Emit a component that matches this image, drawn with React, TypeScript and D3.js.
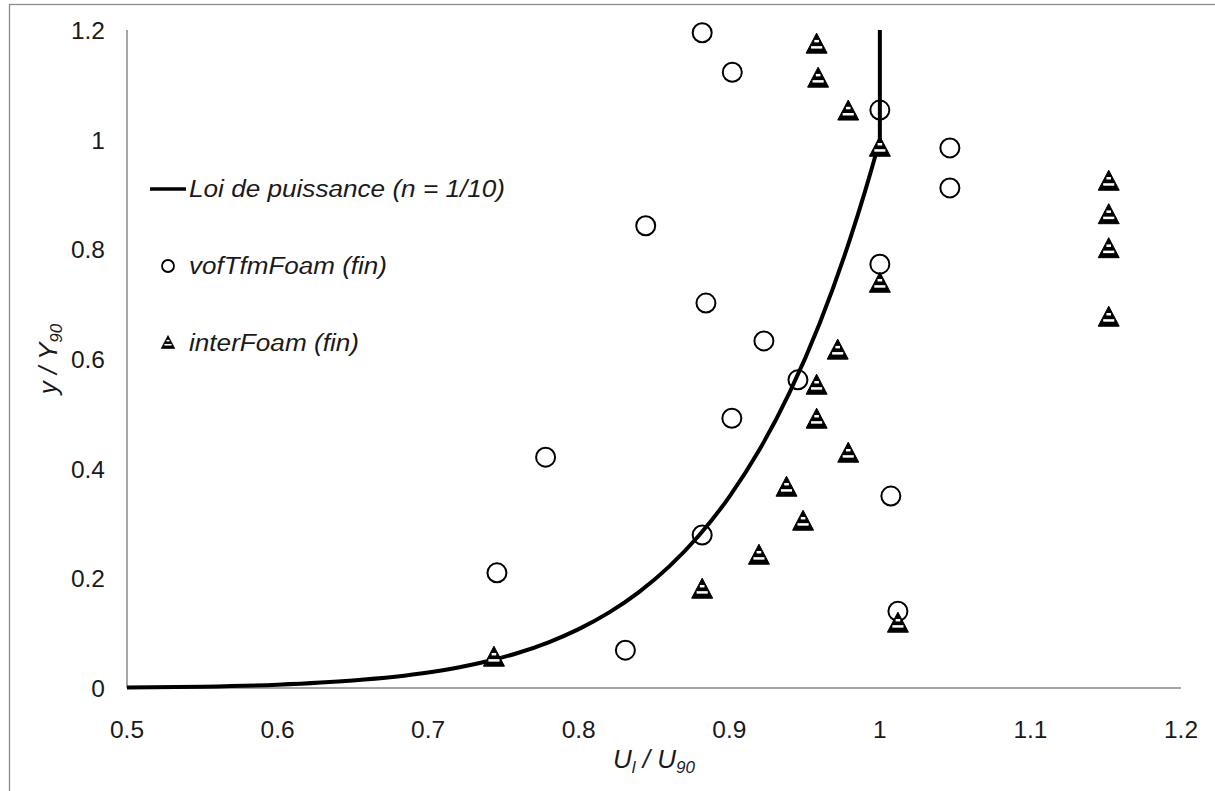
import React from "react";
import * as d3 from "d3";

const xTickValues = [0.5, 0.6, 0.7, 0.8, 0.9, 1.0, 1.1, 1.2];
const xTickLabels = ["0.5", "0.6", "0.7", "0.8", "0.9", "1", "1.1", "1.2"];
const yTickValues = [0, 0.2, 0.4, 0.6, 0.8, 1.0, 1.2];
const yTickLabels = ["0", "0.2", "0.4", "0.6", "0.8", "1", "1.2"];

// Power law (n = 1/10) curve points, read/tabulated
const lawX = [0.5, 0.55, 0.6, 0.65, 0.7, 0.72, 0.74, 0.76, 0.78, 0.8, 0.82, 0.84, 0.86, 0.88, 0.9, 0.92, 0.94, 0.96, 0.98, 0.99, 0.995, 1.0];
const lawY = [0.001, 0.0025, 0.006, 0.0135, 0.0282, 0.0374, 0.0492, 0.0643, 0.0834, 0.1074, 0.1374, 0.1749, 0.2213, 0.2785, 0.3487, 0.4344, 0.5386, 0.6648, 0.8171, 0.9044, 0.9511, 1.0];
const lawTopX = [1.0, 1.0];
const lawTopY = [1.0, 1.2];

// vofTfmFoam (fin)
const vofX = [0.882, 0.902, 1.0, 1.0465, 1.0465, 0.8445, 1.0, 0.8845, 0.923, 0.9456, 0.9017, 0.778, 1.0073, 0.7457, 0.882, 0.831, 1.012];
const vofY = [1.195, 1.123, 1.054, 0.985, 0.912, 0.843, 0.773, 0.702, 0.633, 0.562, 0.492, 0.421, 0.35, 0.21, 0.279, 0.069, 0.14];

// interFoam (fin)
const interX = [0.958, 0.959, 0.979, 1.0, 1.152, 1.152, 1.152, 1.152, 1.0, 0.972, 0.958, 0.958, 0.979, 0.938, 0.949, 0.9197, 0.882, 1.012, 0.7437];
const interY = [1.176, 1.114, 1.054, 0.988, 0.926, 0.865, 0.803, 0.678, 0.74, 0.618, 0.554, 0.492, 0.43, 0.368, 0.306, 0.244, 0.182, 0.12, 0.058];

const W = 1215;
const H = 791;
const FONT = "'Liberation Sans', Arial, sans-serif";

function Tri({ cx, cy, s = 1 }: { cx: number; cy: number; s?: number }) {
  const h = 10 * s;
  const b = 10.5 * s;
  const path = `M${cx},${cy - h}L${cx + b},${cy + h}L${cx - b},${cy + h}Z`;
  const halfW = (yy: number) => ((yy + h) / (2 * h)) * b;
  const stripes = [-2.0 * s, 4.2 * s];
  return (
    <g>
      <path d={path} fill="#000" stroke="#000" strokeWidth={1.0 * s} strokeLinejoin="miter" />
      {stripes.map((sy, i) => {
        const hw = halfW(sy) - 1.9 * s;
        if (hw <= 0) return null;
        return (
          <line key={i} x1={cx - hw} x2={cx + hw} y1={cy + sy} y2={cy + sy} stroke="#fff" strokeWidth={2.5 * s} />
        );
      })}
    </g>
  );
}

export default function App() {
  const x = d3.scaleLinear().domain([0.5, 1.2]).range([127, 1181]);
  const y = d3.scaleLinear().domain([0, 1.2]).range([688, 30]);

  const lawPts: [number, number][] = lawX.map((v, i) => [v, lawY[i]]);
  const curve = d3
    .line<[number, number]>()
    .x((d) => x(d[0]))
    .y((d) => y(d[1]))
    .curve(d3.curveMonotoneX)(lawPts) as string;
  const topPts: [number, number][] = lawTopX.map((v, i) => [v, lawTopY[i]]);
  const top = d3
    .line<[number, number]>()
    .x((d) => x(d[0]))
    .y((d) => y(d[1]))(topPts) as string;

  return (
    <div style={{ position: "absolute", left: 0, top: 0, width: W, height: H, background: "#fff" }}>
      <svg width={W} height={H} style={{ display: "block" }} fontFamily={FONT}>
        <rect x={0} y={0} width={W} height={H} fill="#fff" />
        <rect x={9.5} y={4.5} width={W + 20} height={H + 20} fill="none" stroke="#8a8a8a" strokeWidth={1.3} />

        {/* axes */}
        <line x1={x(0.5)} x2={x(0.5)} y1={y(1.2)} y2={y(0)} stroke="#898989" strokeWidth={1.5} />
        <line x1={x(0.5)} x2={x(1.2)} y1={y(0)} y2={y(0)} stroke="#898989" strokeWidth={1.5} />

        {/* ticks labels */}
        {xTickValues.map((v, i) => (
          <text key={"xt" + i} x={x(v)} y={738} textAnchor="middle" fontSize={24.5} fill="#1a1a1a">
            {xTickLabels[i]}
          </text>
        ))}
        {yTickValues.map((v, i) => (
          <text key={"yt" + i} x={105} y={y(v) + 9} textAnchor="end" fontSize={24.5} fill="#1a1a1a">
            {yTickLabels[i]}
          </text>
        ))}

        {/* axis titles */}
        <text x={654} y={768} textAnchor="middle" fontSize={26} fontStyle="italic" fill="#1a1a1a">
          U<tspan fontSize={17} dy={5}>l</tspan>
          <tspan dy={-5}> / U</tspan>
          <tspan fontSize={17} dy={5}>90</tspan>
        </text>
        <text
          transform={`translate(57,${(y(0) + y(1.2)) / 2}) rotate(-90)`}
          textAnchor="middle"
          fontSize={26}
          fontStyle="italic"
          fill="#1a1a1a"
        >
          y / Y<tspan fontSize={17} dy={5}>90</tspan>
        </text>

        {/* power law */}
        <path d={curve} fill="none" stroke="#000" strokeWidth={4} />
        <path d={top} fill="none" stroke="#000" strokeWidth={4} />

        {/* vofTfmFoam */}
        {vofX.map((v, i) => (
          <circle key={"c" + i} cx={x(v)} cy={y(vofY[i])} r={9.5} fill="none" stroke="#000" strokeWidth={2} />
        ))}

        {/* interFoam */}
        {interX.map((v, i) => (
          <Tri key={"t" + i} cx={x(v)} cy={y(interY[i])} />
        ))}

        {/* legend */}
        <line x1={150} x2={186} y1={189} y2={189} stroke="#000" strokeWidth={3.5} />
        <text x={189} y={197} fontSize={23} fontStyle="italic" fill="#1a1a1a" textLength={316} lengthAdjust="spacingAndGlyphs">
          Loi de puissance (n = 1/10)
        </text>
        <circle cx={168} cy={266} r={6} fill="none" stroke="#000" strokeWidth={1.8} />
        <text x={189} y={274} fontSize={23} fontStyle="italic" fill="#1a1a1a" textLength={198} lengthAdjust="spacingAndGlyphs">
          vofTfmFoam (fin)
        </text>
        <Tri cx={168} cy={342} s={0.65} />
        <text x={189} y={351} fontSize={23} fontStyle="italic" fill="#1a1a1a" textLength={170} lengthAdjust="spacingAndGlyphs">
          interFoam (fin)
        </text>
      </svg>
    </div>
  );
}
